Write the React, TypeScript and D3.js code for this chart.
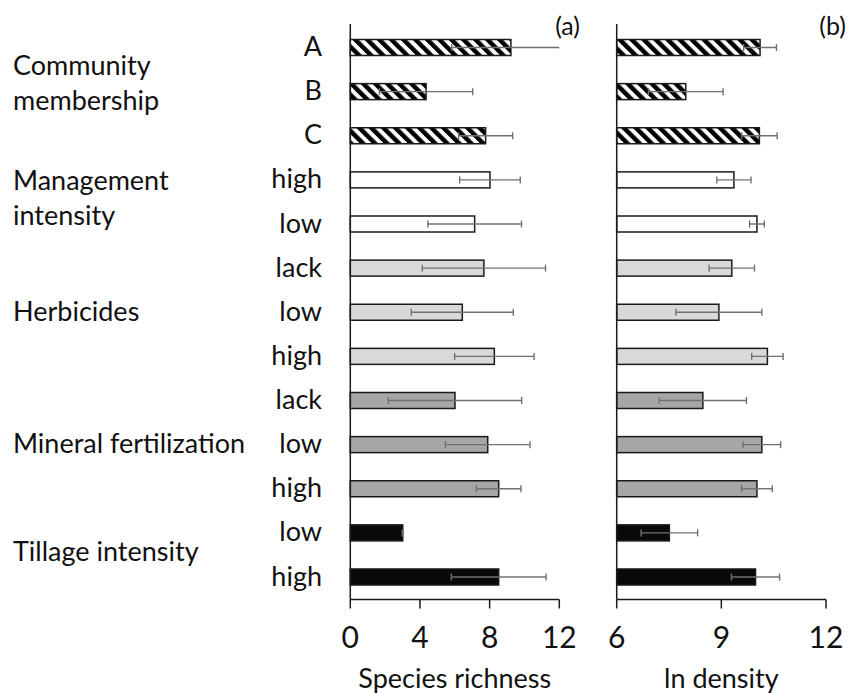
import React from "react";
import * as d3 from "d3";

const categories = ["A", "B", "C", "high", "low", "lack", "low", "high", "lack", "low", "high", "low", "high"];
const groupNames = [["Community", "membership"], ["Management", "intensity"], ["Herbicides"], ["Mineral fertilization"], ["Tillage intensity"]];
const groupSizes = [3, 2, 3, 3, 2];
const richness = [9.22, 4.35, 7.77, 8.02, 7.14, 7.67, 6.43, 8.27, 6.01, 7.89, 8.52, 3.01, 8.52];
const richnessErr = [3.4, 2.68, 1.55, 1.74, 2.69, 3.54, 2.93, 2.28, 3.83, 2.43, 1.28, 0.03, 2.72];
const density = [10.11, 7.98, 10.09, 9.36, 10.02, 9.3, 8.93, 10.32, 8.47, 10.16, 10.02, 7.51, 9.98];
const densityErr = [0.47, 1.07, 0.51, 0.49, 0.21, 0.65, 1.23, 0.45, 1.25, 0.54, 0.44, 0.81, 0.69];
const richnessTicks = [0, 4, 8, 12];
const densityTicks = [6, 9, 12];

const groupFills = ["url(#stripes)", "#ffffff", "#d9d9d9", "#a6a6a6", "#0a0a0a"];
const groupShift = [-8, -3, 0, 0, -2];
const FONT = "Lato, 'Open Sans', sans-serif";
const LABEL_SIZE = 27;

const groupOf: number[] = [];
groupSizes.forEach((n, g) => { for (let k = 0; k < n; k++) groupOf.push(g); });

const y = d3.scalePoint<number>().domain(d3.range(categories.length)).range([47.5, 577]);
const BAR_H = 16;
const AXIS_Y = 599.5;
const AXIS_TOP = 24;

function Panel({ x, values, errs, ticks, title, tag, tagX }: any) {
  const [lo, hi] = x.domain();
  const x0 = x(lo);
  return (
    <g>
      {values.map((v: number, i: number) => {
        const cy = y(i)!;
        const e = errs[i];
        const l = Math.max(lo, v - e);
        const r = Math.min(hi, v + e);
        const clippedR = v + e > hi;
        return (
          <g key={i}>
            <rect x={x0} y={cy - BAR_H / 2} width={x(v) - x0} height={BAR_H}
              fill={groupFills[groupOf[i]]} stroke="#1a1a1a" strokeWidth={1.5} />
            <line x1={x(l)} x2={x(r)} y1={cy} y2={cy} stroke="#707070" strokeWidth={1.4} />
            <line x1={x(l)} x2={x(l)} y1={cy - 3.5} y2={cy + 3.5} stroke="#707070" strokeWidth={1.4} />
            {!clippedR && <line x1={x(r)} x2={x(r)} y1={cy - 3.5} y2={cy + 3.5} stroke="#707070" strokeWidth={1.4} />}
          </g>
        );
      })}
      <line x1={x0} x2={x0} y1={AXIS_TOP} y2={AXIS_Y} stroke="#1a1a1a" strokeWidth={1.5} />
      <line x1={x0} x2={x(hi)} y1={AXIS_Y} y2={AXIS_Y} stroke="#1a1a1a" strokeWidth={1.5} />
      {ticks.map((t: number) => (
        <g key={t}>
          <line x1={x(t)} x2={x(t)} y1={AXIS_Y} y2={AXIS_Y + 9} stroke="#1a1a1a" strokeWidth={1.5} />
          <text x={x(t)} y={647.5} textAnchor="middle" fontSize={30} fontFamily={FONT} fill="#111">{t}</text>
        </g>
      ))}
      <text x={(x(lo) + x(hi)) / 2} y={688} textAnchor="middle" fontSize={27} fontFamily={FONT} fill="#111">{title}</text>
      <text x={tagX} y={35} textAnchor="end" fontSize={25} fontFamily={FONT} fill="#111">{tag}</text>
    </g>
  );
}

export default function App() {
  const xa = d3.scaleLinear().domain([0, 12]).range([350.3, 559.3]);
  const xb = d3.scaleLinear().domain([6, 12]).range([616.7, 826]);
  let start = 0;
  const groupCenters = groupSizes.map((n) => {
    const c = (y(start)! + y(start + n - 1)!) / 2;
    start += n;
    return c;
  });
  return (
    <svg width={848} height={693} style={{ position: "absolute", left: 0, top: 0, background: "#fff" }}>
      <defs>
        <pattern id="stripes" width={8.5} height={8.5} patternUnits="userSpaceOnUse" patternTransform="rotate(-45)">
          <rect x={0} y={0} width={8.5} height={8.5} fill="#fff" />
          <rect x={0} y={0} width={4.5} height={8.5} fill="#000" />
        </pattern>
      </defs>
      <rect x={0} y={0} width={848} height={693} fill="#fff" />
      {categories.map((c, i) => (
        <text key={i} x={322} y={y(i)! + 8.5} textAnchor="end" fontSize={LABEL_SIZE} fontFamily={FONT} fill="#111">{c}</text>
      ))}
      {groupNames.map((lines, g) => {
        const n = lines.length;
        return lines.map((ln, k) => (
          <text key={g + "-" + k} x={13} y={groupCenters[g] + groupShift[g] + (k - (n - 1) / 2) * 35 + 8.5}
            fontSize={LABEL_SIZE} fontFamily={FONT} fill="#111">{ln}</text>
        ));
      })}
      <Panel x={xa} values={richness} errs={richnessErr} ticks={richnessTicks} title="Species richness" tag="(a)" tagX={580} />
      <Panel x={xb} values={density} errs={densityErr} ticks={densityTicks} title="ln density" tag="(b)" tagX={846} />
    </svg>
  );
}
